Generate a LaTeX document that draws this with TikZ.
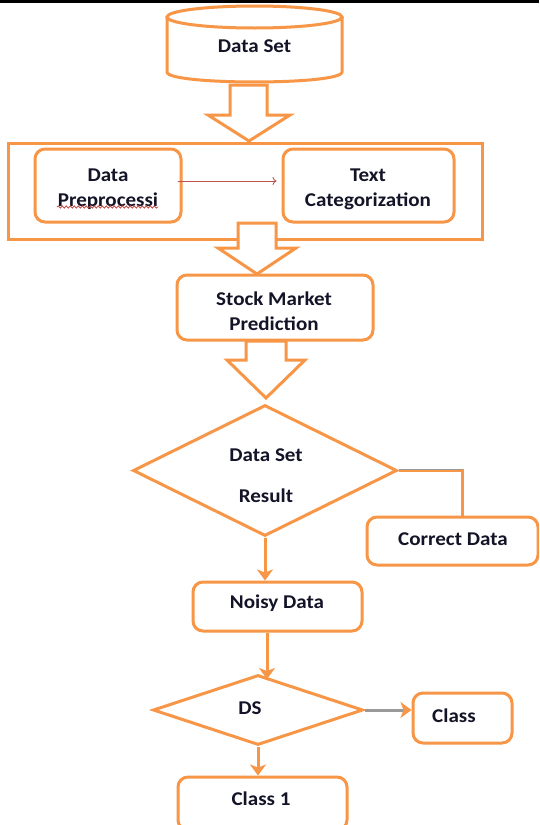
\documentclass[tikz,border=0pt]{standalone}
\usepackage{fontspec}
\setmainfont{Carlito}[FakeStretch=1.08]
\usetikzlibrary{arrows.meta,shapes.geometric,decorations.pathmorphing}
\definecolor{orangeC}{HTML}{F79646}
\definecolor{redC}{HTML}{C0504D}
\definecolor{grayC}{HTML}{9A9A9A}
\definecolor{inkC}{HTML}{141428}
\begin{document}
\begin{tikzpicture}[x=1pt,y=-1pt,line width=3pt,
  font=\fontsize{19.5}{25}\selectfont\bfseries, text=inkC,
  box/.style={draw=orangeC, rounded corners=10pt, align=center, inner sep=0pt},
  dia/.style={draw=orangeC, diamond, inner sep=0pt, align=center},
  lbl/.style={align=center, inner sep=0pt},
  blockarrow/.style={draw=orangeC, fill=white, line join=miter},
  flow/.style={draw=orangeC, -{Stealth[length=11pt,width=16pt,inset=3pt]}}]
\useasboundingbox (0,0) rectangle (539,825);
\clip (0,0) rectangle (539,825);
\fill[white] (0,0) rectangle (539,825);
\fill[black] (0,0) rectangle (539,3);

% cylinder
\draw[orangeC, fill=white] (167,17) -- (167,72) .. controls (167,85.3) and (342,85.3) .. (342,72) -- (342,17);
\draw[orangeC] (254.5,17) ellipse [x radius=87.5, y radius=11];
\node (dset) at (254.5,46.5) {Data Set};

% block arrow 1
\draw[blockarrow] (230,85) -- (267,85) -- (267,115) -- (290,115) -- (249,141) -- (208,115) -- (230,115) -- cycle;

% group rectangle
\node (grp) [draw=orangeC, minimum width=474pt, minimum height=96pt, inner sep=0pt] at (245,191) {};
\node (prep) [box, minimum width=146pt, minimum height=73pt] at (108,185.5) {};
\node (preptxt) [lbl] at (108,189) {Data\\Preprocessi};
\node (tcat) [box, minimum width=171pt, minimum height=73pt] at (368.5,185.5) {};
\node (tcattxt) [lbl] at (368,189) {Text\\Categorization};
\draw[redC, line width=0.9pt, decorate, decoration={snake, amplitude=1.1pt, segment length=4pt}] (57,207) -- (158,207);
\draw[redC, line width=0.9pt, -{To[length=4pt,width=8pt]}] ([shift={(-5pt,4.5pt)}]prep.east) -- ([shift={(-5pt,4.5pt)}]prep.east -| tcat.west);

% block arrow 2
\draw[blockarrow] (238,223) -- (276,223) -- (276,248) -- (296,248) -- (257,274) -- (218,248) -- (238,248) -- cycle;

\node (stock) [box, minimum width=196pt, minimum height=65pt] at (275,307.5) {};
\node (stocktxt) [lbl] at (274,311) {Stock Market\\Prediction};

% block arrow 3
\draw[blockarrow] (246,341) -- (286,341) -- (286,360) -- (305,360) -- (266,398) -- (227,360) -- (246,360) -- cycle;

\node (d1) [dia, aspect=2, minimum width=264pt, minimum height=131pt] at (265,470.5) {};
\node (d1txt) [lbl] at (266,476) {Data Set\\[16pt]Result};
\node (correct) [box, minimum width=171pt, minimum height=48pt] at (452.5,541) {};
\node (correcttxt) at (453,539) {Correct Data};
\coordinate (bend) at (462,470.5);
\draw[orangeC] (d1.east) -- (bend) -- (bend |- correct.north);
\draw[grayC, line width=1.5pt] ([yshift=1pt]d1.east) -- ([yshift=1pt]bend);

\node (noisy) [box, minimum width=169pt, minimum height=49pt] at (277.5,606.5) {};
\node (noisytxt) at (277,603) {Noisy Data};
\draw[flow] (d1.south) -- (d1.south |- noisy.north);

\node (ds) [dia, aspect=3, minimum width=210pt, minimum height=70pt] at (258,710) {};
\node (dstxt) at (250,708) {DS};
\coordinate (dsin) at (267,679);
\draw[flow] (noisy.south -| dsin) -- (dsin);

\node (cls) [box, minimum width=99pt, minimum height=50pt] at (462.5,718) {};
\node (clstxt) at (454,715.5) {Class};
\draw[grayC, -{Stealth[length=11pt,width=16pt,inset=3pt,color=orangeC]}] (ds.east) -- (ds.east -| cls.west);

\node (class1) [box, minimum width=169pt, minimum height=53pt] at (262.5,803.5) {};
\node (class1txt) at (261,798.5) {Class 1};
\draw[flow] (ds.south) -- (ds.south |- class1.north);
\end{tikzpicture}
\end{document}
